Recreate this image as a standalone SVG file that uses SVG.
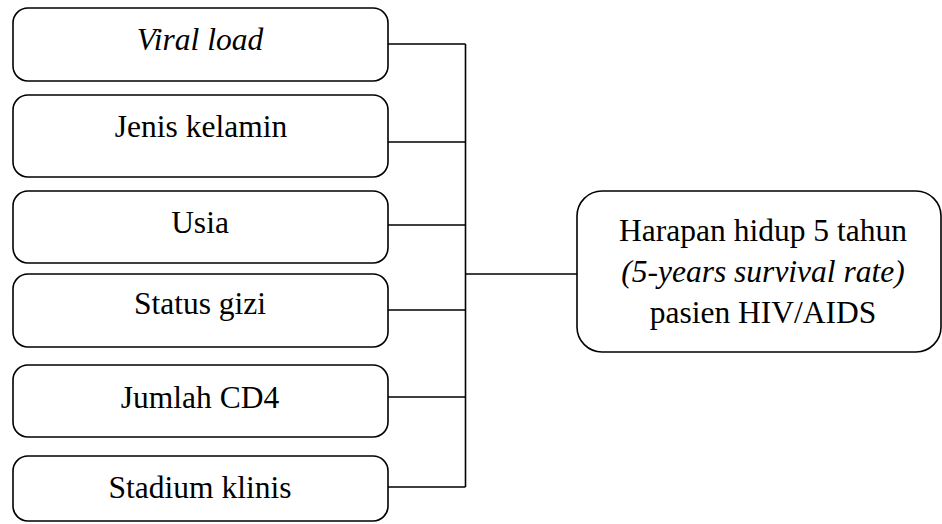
<svg xmlns="http://www.w3.org/2000/svg" width="942" height="524" viewBox="0 0 942 524">
<style>
.box{fill:#fff;stroke:#000;stroke-width:1.6}
.t{font-family:"Liberation Serif","DejaVu Serif",serif;font-size:31.5px;fill:#000;text-anchor:middle}
.i{font-style:italic}
.c{fill:none;stroke:#000;stroke-width:1.6}
</style>
<rect width="942" height="524" fill="#fff"/>
<g id="connectors">
<path class="c" d="M388 44H465.5M388 142H465.5M388 225H465.5M388 310H465.5M388 397H465.5M388 487H465.5M465.5 44V487M465.5 274H578"/>
</g>
<g id="n1"><rect class="box" x="13" y="8" width="375" height="73" rx="15"/><text class="t i" x="200" y="50">Viral load</text></g>
<g id="n2"><rect class="box" x="13" y="95" width="375" height="82" rx="15"/><text class="t" x="201" y="137">Jenis kelamin</text></g>
<g id="n3"><rect class="box" x="13" y="191" width="375" height="72" rx="15"/><text class="t" x="200" y="233">Usia</text></g>
<g id="n4"><rect class="box" x="13" y="274" width="375" height="73" rx="15"/><text class="t" x="200" y="314">Status gizi</text></g>
<g id="n5"><rect class="box" x="13" y="365" width="375" height="72" rx="15"/><text class="t" x="200" y="408">Jumlah CD4</text></g>
<g id="n6"><rect class="box" x="13" y="456" width="375" height="65" rx="15"/><text class="t" x="200" y="498">Stadium klinis</text></g>
<g id="target"><rect class="box" x="577" y="191" width="364" height="161" rx="25"/>
<text class="t" x="763" y="241">Harapan hidup 5 tahun</text>
<text class="t i" x="763" y="282">(5-years survival rate)</text>
<text class="t" x="763" y="323">pasien HIV/AIDS</text></g>
</svg>
